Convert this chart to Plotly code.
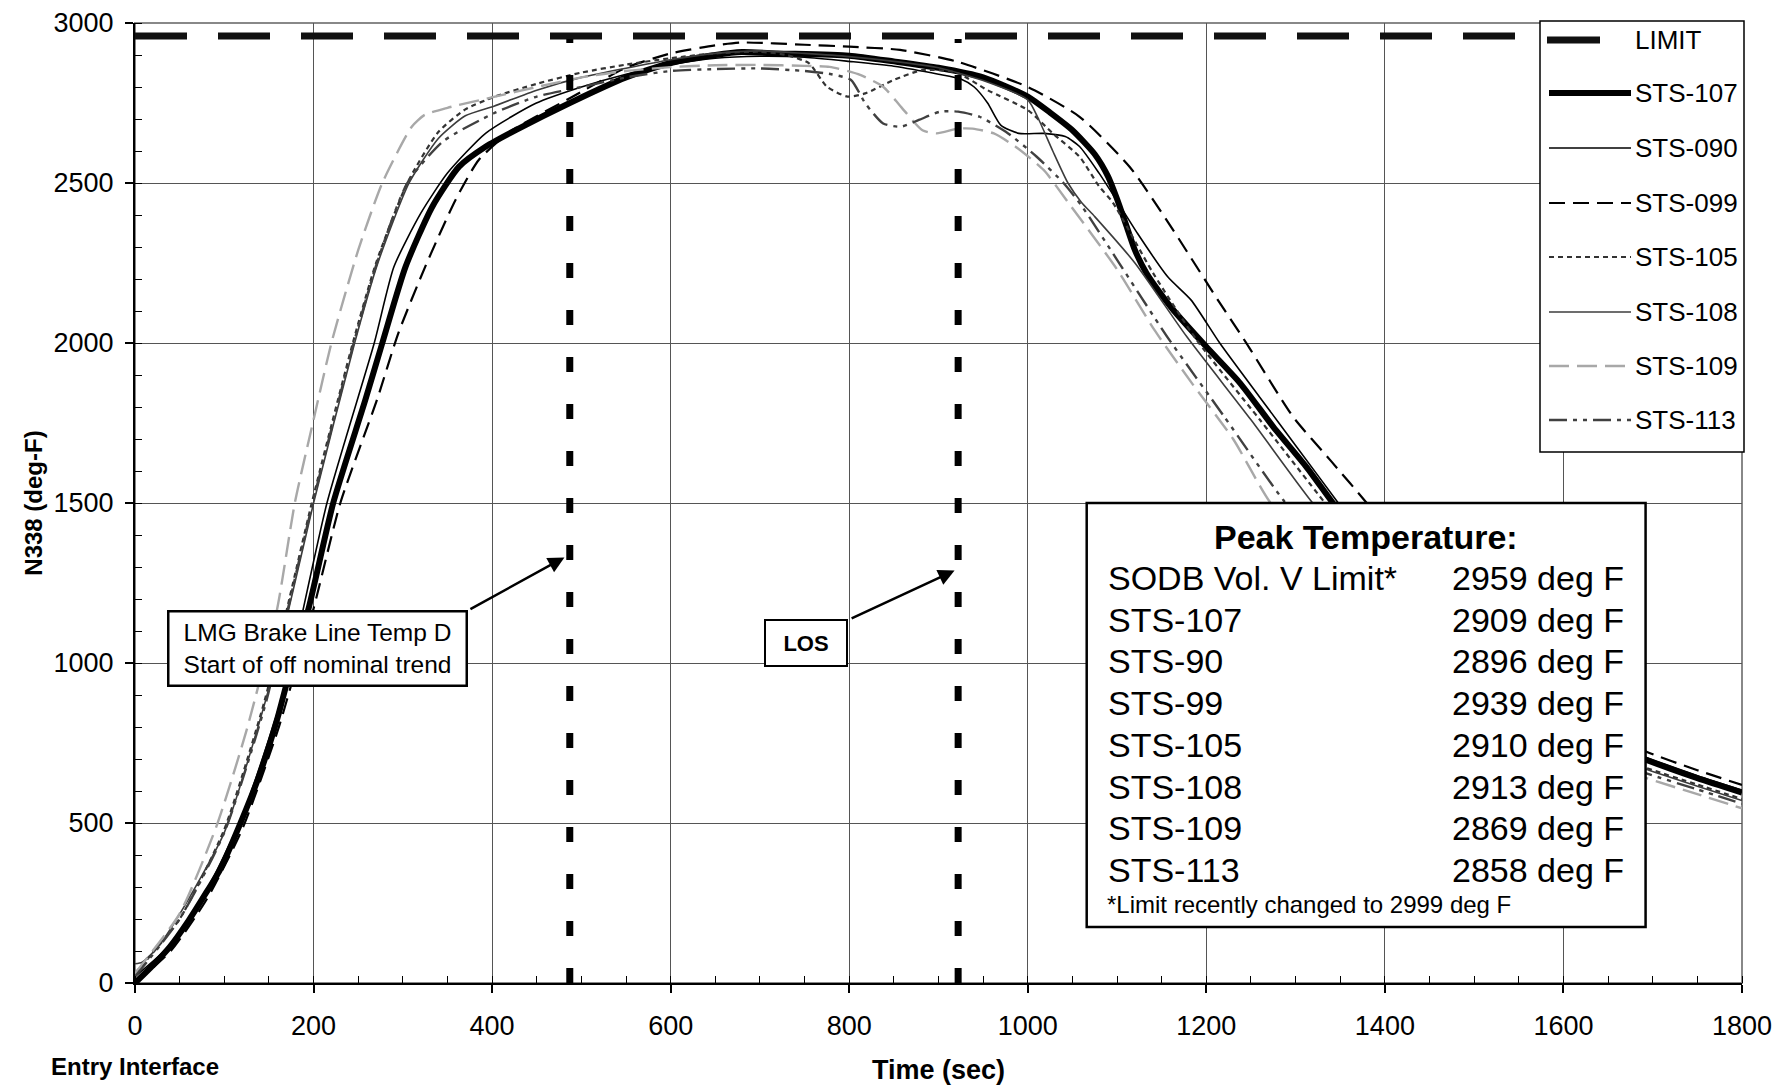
import plotly.graph_objects as go

# ------------------------------------------------------------------ data
t_107 = [0, 20, 39, 60, 77, 95, 118, 140, 159, 176, 194, 222, 258, 277, 303, 333, 363, 393, 427, 487, 550, 600, 650, 680, 720, 800, 850, 900, 950, 1000, 1025, 1050, 1075, 1090, 1100, 1110, 1120, 1133, 1150, 1163, 1200, 1238, 1275, 1312, 1342, 1400, 1450, 1500, 1550, 1600, 1650, 1693, 1750, 1800]
T_107 = [0, 55, 113, 195, 270, 353, 499, 655, 822, 1000, 1166, 1500, 1822, 2000, 2238, 2426, 2551, 2614, 2666, 2750, 2830, 2875, 2900, 2909, 2905, 2898, 2880, 2860, 2830, 2770, 2720, 2665, 2590, 2520, 2450, 2370, 2290, 2218, 2150, 2103, 1988, 1874, 1738, 1613, 1499, 1290, 1140, 1010, 900, 815, 745, 697, 640, 595]

t_090 = [0, 40, 80, 120, 160, 175, 215, 268, 290, 320, 350, 393, 449, 500, 550, 600, 650, 700, 750, 800, 850, 900, 925, 940, 955, 970, 990, 1018, 1042, 1058, 1080, 1097, 1123, 1157, 1183, 1215, 1260, 1300, 1348, 1400, 1450, 1500, 1550, 1600, 1650, 1693, 1750, 1800]
T_090 = [20, 120, 290, 520, 850, 1000, 1500, 2000, 2238, 2405, 2531, 2656, 2749, 2800, 2840, 2870, 2890, 2896, 2893, 2880, 2865, 2840, 2825, 2800, 2750, 2680, 2655, 2655, 2645, 2614, 2530, 2457, 2342, 2206, 2134, 2000, 1830, 1680, 1499, 1300, 1150, 1020, 910, 820, 750, 705, 648, 603]

t_099 = [0, 40, 80, 120, 160, 180, 200, 230, 271, 295, 325, 359, 385, 420, 487, 550, 600, 650, 680, 750, 800, 857, 921, 1000, 1058, 1114, 1157, 1213, 1245, 1297, 1340, 1380, 1450, 1500, 1550, 1600, 1650, 1693, 1750, 1800]
T_099 = [0, 100, 260, 480, 790, 980, 1170, 1500, 1822, 2031, 2238, 2447, 2572, 2660, 2765, 2860, 2905, 2930, 2939, 2932, 2926, 2916, 2879, 2800, 2707, 2551, 2378, 2134, 1999, 1770, 1630, 1499, 1250, 1100, 970, 870, 790, 723, 665, 619]

t_105 = [0, 50, 100, 145, 170, 198, 244, 270, 305, 340, 370, 402, 450, 500, 550, 600, 650, 700, 730, 755, 775, 798, 818, 850, 882, 920, 955, 1000, 1028, 1058, 1080, 1095, 1140, 1189, 1260, 1333, 1400, 1450, 1500, 1550, 1600, 1650, 1693, 1750, 1800]
T_105 = [30, 200, 480, 880, 1166, 1500, 2000, 2250, 2500, 2660, 2730, 2769, 2810, 2845, 2870, 2890, 2905, 2910, 2900, 2874, 2801, 2770, 2780, 2822, 2853, 2845, 2790, 2728, 2655, 2582, 2489, 2440, 2220, 2010, 1760, 1500, 1270, 1120, 990, 880, 790, 720, 672, 620, 575]

t_108 = [0, 8, 25, 50, 100, 145, 172, 200, 246, 272, 307, 340, 370, 402, 450, 500, 600, 650, 700, 750, 800, 850, 900, 950, 1000, 1012, 1028, 1045, 1060, 1075, 1120, 1178, 1250, 1318, 1400, 1450, 1500, 1550, 1600, 1650, 1693, 1750, 1800]
T_108 = [60, 65, 110, 215, 470, 870, 1166, 1500, 2000, 2250, 2500, 2640, 2710, 2740, 2790, 2830, 2885, 2905, 2913, 2905, 2895, 2880, 2860, 2820, 2760, 2700, 2600, 2500, 2440, 2395, 2250, 2020, 1760, 1504, 1240, 1100, 975, 870, 785, 715, 668, 615, 570]

t_109 = [0, 50, 91, 125, 159, 179, 200, 220, 250, 277, 310, 324, 350, 402, 450, 500, 550, 600, 650, 700, 750, 778, 810, 838, 858, 882, 898, 922, 938, 962, 986, 1018, 1045, 1100, 1142, 1185, 1230, 1272, 1350, 1400, 1450, 1500, 1550, 1600, 1650, 1693, 1750, 1800]
T_109 = [30, 217, 488, 790, 1166, 1500, 1760, 2000, 2290, 2500, 2676, 2712, 2735, 2769, 2800, 2830, 2850, 2862, 2868, 2869, 2866, 2863, 2840, 2801, 2738, 2665, 2655, 2670, 2670, 2655, 2614, 2540, 2440, 2230, 2040, 1870, 1700, 1500, 1260, 1120, 1000, 895, 805, 730, 680, 640, 590, 546]

t_113 = [0, 50, 100, 147, 171, 199, 245, 271, 305, 345, 402, 450, 500, 550, 600, 650, 700, 750, 780, 802, 818, 838, 858, 878, 902, 922, 946, 978, 1010, 1040, 1060, 1100, 1156, 1220, 1286, 1350, 1400, 1450, 1500, 1550, 1600, 1650, 1693, 1750, 1800]
T_113 = [20, 200, 470, 880, 1166, 1500, 2000, 2250, 2500, 2630, 2718, 2770, 2800, 2830, 2850, 2856, 2858, 2850, 2840, 2822, 2749, 2686, 2676, 2697, 2723, 2723, 2707, 2655, 2582, 2500, 2430, 2260, 2020, 1770, 1510, 1300, 1160, 1040, 935, 840, 760, 700, 655, 605, 560]

series_names = ["STS-107", "STS-090", "STS-099", "STS-105", "STS-108", "STS-109", "STS-113"]
series_t = [t_107, t_090, t_099, t_105, t_108, t_109, t_113]
series_T = [T_107, T_090, T_099, T_105, T_108, T_109, T_113]

limit_value = 2959
time_range = [0, 1800]
event_times = [487, 922]          # LMG brake line trend start, LOS
event_top = 2950

peak_title = "Peak Temperature:"
peak_labels = ["SODB Vol. V Limit*", "STS-107", "STS-90", "STS-99", "STS-105", "STS-108", "STS-109", "STS-113"]
peak_values = [2959, 2909, 2896, 2939, 2910, 2913, 2869, 2858]
peak_note = "*Limit recently changed to 2999 deg F"

# ------------------------------------------------------------------ styles
FONT = "Liberation Sans, Arial, sans-serif"
styles = {
    "LIMIT":   dict(color="#111111", width=7, dash="52px,31px"),
    "STS-107": dict(color="#000000", width=6, dash="solid"),
    "STS-090": dict(color="#000000", width=1.6, dash="solid"),
    "STS-099": dict(color="#000000", width=2.2, dash="16px,8px"),
    "STS-105": dict(color="#333333", width=2.2, dash="5px,4px"),
    "STS-108": dict(color="#3c3c3c", width=1.6, dash="solid"),
    "STS-109": dict(color="#a8a8a8", width=2.4, dash="20px,8px"),
    "STS-113": dict(color="#404040", width=2.4, dash="18px,6px,4px,6px,4px,6px"),
}

fig = go.Figure()

# limit line
fig.add_trace(go.Scatter(x=time_range, y=[limit_value, limit_value], mode="lines",
                         name="LIMIT", line=styles["LIMIT"], showlegend=False,
                         hoverinfo="skip"))

for name, tx, ty in zip(series_names, series_t, series_T):
    st = styles[name]
    fig.add_trace(go.Scatter(x=tx, y=ty, mode="lines", name=name,
                             line=dict(color=st["color"], width=st["width"], dash=st["dash"],
                                       shape="spline", smoothing=0.6),
                             showlegend=False))

for te in event_times:
    fig.add_trace(go.Scatter(x=[te, te], y=[0, event_top], mode="lines",
                             line=dict(color="#000000", width=7, dash="15px,32px"),
                             showlegend=False, hoverinfo="skip"))

shapes = []
annotations = []

# plot frame (grey top / right)
shapes.append(dict(type="rect", xref="paper", yref="paper", x0=0, y0=0, x1=1, y1=1,
                   line=dict(color="#888888", width=2), layer="below"))

# peak temperature box
box_x0, box_x1, box_y0, box_y1 = 1066, 1692, 175, 1500
shapes.append(dict(type="rect", xref="x", yref="y", x0=box_x0, x1=box_x1, y0=box_y0, y1=box_y1,
                   line=dict(color="#000000", width=2.5), fillcolor="white", layer="above"))
annotations.append(dict(x=(box_x0 + box_x1) / 2, y=1394, xref="x", yref="y",
                        text="<b>" + peak_title + "</b>", showarrow=False,
                        font=dict(family=FONT, size=34, color="black"),
                        xanchor="center", yanchor="middle"))
row_y0, row_step = 1266, 130.5
for i, (lab, val) in enumerate(zip(peak_labels, peak_values)):
    yy = row_y0 - i * row_step
    annotations.append(dict(x=1088, y=yy, xref="x", yref="y", text=lab, showarrow=False,
                            font=dict(family=FONT, size=34, color="black"),
                            xanchor="left", yanchor="middle"))
    annotations.append(dict(x=1473, y=yy, xref="x", yref="y", text=f"{val} deg F",
                            showarrow=False, font=dict(family=FONT, size=34, color="black"),
                            xanchor="left", yanchor="middle"))
annotations.append(dict(x=1086, y=244, xref="x", yref="y", text=peak_note, showarrow=False,
                        font=dict(family=FONT, size=24, color="black"),
                        xanchor="left", yanchor="middle"))

# callouts
annotations.append(dict(x=204, y=1044, xref="x", yref="y",
                        text="LMG Brake Line Temp D<br>Start of off nominal trend",
                        showarrow=False, align="center",
                        font=dict(family=FONT, size=24.5, color="black"),
                        bgcolor="white", bordercolor="black", borderwidth=2.5,
                        width=296, height=72, borderpad=0))
annotations.append(dict(x=481, y=1330, ax=374, ay=1166, xref="x", yref="y",
                        axref="x", ayref="y", text="", showarrow=True,
                        arrowhead=2, arrowsize=1.3, arrowwidth=2.5, arrowcolor="black"))
annotations.append(dict(x=752, y=1061, xref="x", yref="y", text="<b>LOS</b>",
                        showarrow=False, font=dict(family=FONT, size=22, color="black"),
                        bgcolor="white", bordercolor="black", borderwidth=2,
                        width=80, height=44, borderpad=0))
annotations.append(dict(x=918, y=1289, ax=801, ay=1137, xref="x", yref="y",
                        axref="x", ayref="y", text="", showarrow=True,
                        arrowhead=2, arrowsize=1.3, arrowwidth=2.5, arrowcolor="black"))

# x-axis side label
annotations.append(dict(x=0, y=-0.0865, xref="x", yref="paper", text="<b>Entry Interface</b>",
                        showarrow=False, font=dict(family=FONT, size=24, color="black"),
                        xanchor="center", yanchor="middle"))

# custom legend (box, samples, labels)
L, R, PW, PH = 135, 1742, 1607, 960
def px(X):
    return (X - L) / PW
def py(Y):
    return (983 - Y) / PH

shapes.append(dict(type="rect", xref="paper", yref="paper", x0=px(1540), x1=px(1744),
                   y0=py(452), y1=py(21), line=dict(color="#000000", width=1.5),
                   fillcolor="white", layer="above"))
legend_names = ["LIMIT"] + series_names
legend_rows = [40, 93, 148, 203, 257, 312, 366, 420]
for nm, ry in zip(legend_names, legend_rows):
    st = styles[nm]
    if nm == "LIMIT":
        shapes.append(dict(type="line", xref="paper", yref="paper", x0=px(1547), x1=px(1600),
                           y0=py(ry), y1=py(ry), layer="above",
                           line=dict(color=st["color"], width=st["width"], dash="solid")))
    else:
        shapes.append(dict(type="line", xref="paper", yref="paper", x0=px(1549), x1=px(1631),
                           y0=py(ry), y1=py(ry), layer="above",
                           line=dict(color=st["color"], width=st["width"], dash=st["dash"])))
    annotations.append(dict(x=px(1633), y=py(ry), xref="paper", yref="paper", text=nm,
                            showarrow=False, xanchor="left", yanchor="middle",
                            font=dict(family=FONT, size=26, color="black")))

fig.update_layout(
    width=1778, height=1085,
    margin=dict(l=135, r=36, t=23, b=102, autoexpand=False),
    paper_bgcolor="white", plot_bgcolor="white",
    font=dict(family=FONT, color="black"),
    showlegend=False,
    shapes=shapes, annotations=annotations,
)
fig.update_xaxes(range=time_range, dtick=200, tick0=0, showgrid=True, gridcolor="#555555",
                 gridwidth=1, zeroline=False, showline=True, linecolor="black", linewidth=2,
                 ticks="outside", ticklen=8, tickwidth=1.5, tickcolor="black",
                 ticklabelstandoff=10,
                 tickfont=dict(family=FONT, size=27, color="black"),
                 minor=dict(dtick=50, ticks="inside", ticklen=7, tickwidth=1.2,
                            tickcolor="black", showgrid=False),
                 title=dict(text="<b>Time (sec)</b>", font=dict(family=FONT, size=27, color="black"),
                            standoff=20),
                 automargin=False)
fig.update_yaxes(range=[0, 3000], dtick=500, tick0=0, showgrid=True, gridcolor="#555555",
                 gridwidth=1, zeroline=False, showline=True, linecolor="black", linewidth=2,
                 ticks="outside", ticklen=8, tickwidth=1.5, tickcolor="black",
                 ticklabelstandoff=6,
                 tickfont=dict(family=FONT, size=27, color="black"),
                 minor=dict(dtick=100, ticks="inside", ticklen=7, tickwidth=1.2,
                            tickcolor="black", showgrid=False),
                 title=dict(text="<b>N338 (deg-F)</b>", font=dict(family=FONT, size=24, color="black"),
                            standoff=4),
                 automargin=False)

fig.write_html("out.html")
